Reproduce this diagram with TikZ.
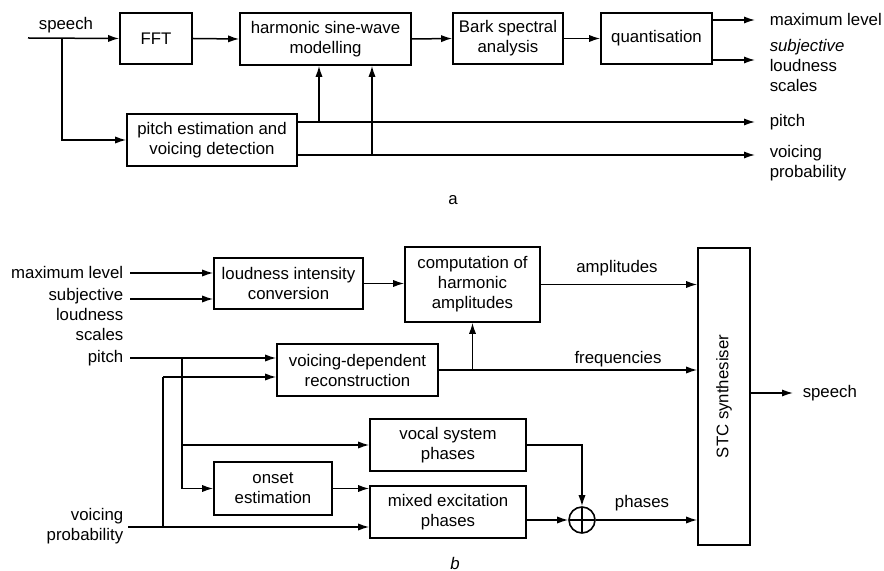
\documentclass[tikz,border=0pt]{standalone}
\usepackage{fontspec}
\setmainfont{Liberation Sans}
\usetikzlibrary{arrows.meta}

\begin{document}
\begin{tikzpicture}[x=0.5pt, y=-0.5pt,
    every node/.style={font=\fontsize{8.4}{10}\selectfont},
    blk/.style={draw, line width=0.8pt, align=center, inner sep=1pt},
    lbl/.style={inner sep=1pt},
    every path/.style={line width=0.75pt},
    >={Latex[length=5.5pt, width=3.6pt]}]
    \useasboundingbox (0,0) rectangle (884,571);

    % Part a: analysis
    \node[blk, minimum width=36pt, minimum height=25.5pt] (fft) at (156,38.5) {FFT};
    \node[blk, minimum width=85.5pt, minimum height=26pt] (hsw) at (325.5,39) {harmonic sine-wave\\modelling};
    \node[blk, minimum width=55pt, minimum height=25.5pt] (bark) at (508,38.5) {Bark spectral\\analysis};
    \node[blk, minimum width=55.5pt, minimum height=25.5pt] (quant) at (656.5,38.5) {quantisation};
    \node[blk, minimum width=85pt, minimum height=26pt] (pe) at (212,140) {pitch estimation and\\voicing detection};

    \coordinate (spin) at (28,38);
    \coordinate (sp) at (62,38);
    \node[lbl] (speechin) at (66,25) {speech};
    \draw[->] (spin) -- (fft.west);
    \draw[->] (sp) |- (pe.west);
    \draw[->] (fft.east) -- (hsw.west);
    \draw[->] (hsw.east) -- (bark.west);
    \draw[->] (bark.east) -- (quant.west);

    % outputs of part a
    \coordinate (mla) at (755,20);
    \coordinate (sla) at (755,60);
    \coordinate (pa) at (755,122);
    \coordinate (va) at (755,155);
    \draw[->] (quant.east |- mla) -- (mla);
    \draw[->] (quant.east |- sla) -- (sla);
    \draw[->] (pe.east |- pa) -- (pa);
    \draw[->] (pe.east |- va) -- (va);
    \coordinate (t1) at (319,122);
    \coordinate (t2) at (372,155);
    \draw[->] (t1) -- (t1 |- hsw.south);
    \draw[->] (t2) -- (t2 |- hsw.south);
    \node[lbl, anchor=west] (mlalbl) at (767,20) {maximum level};
    \node[lbl, anchor=west, align=left] (slalbl) at (767,65.5) {\textit{subjective}\\loudness\\scales};
    \node[lbl, anchor=west] (palbl) at (767,122) {pitch};
    \node[lbl, anchor=west, align=left] (valbl) at (767,163) {voicing\\probability};
    \node[lbl] (capa) at (453,200) {a};

    % Part b: synthesis
    \node[blk, minimum width=74.5pt, minimum height=25.5pt] (loud) at (288.5,283.5) {loudness intensity\\conversion};
    \node[blk, minimum width=67.5pt, minimum height=37.5pt] (comp) at (472.5,284.5) {computation of\\harmonic\\amplitudes};
    \node[blk, minimum width=26pt, minimum height=148.5pt] (stc) at (724,396.5) {};
    \node[rotate=90] (stclbl) at (stc.center) {STC synthesiser};
    \node[blk, minimum width=80.5pt, minimum height=26pt] (vdr) at (357.5,370) {voicing-dependent\\reconstruction};
    \node[blk, minimum width=59pt, minimum height=26.5pt] (onset) at (273,488.5) {onset\\estimation};
    \node[blk, minimum width=78pt, minimum height=26pt] (vocal) at (448,445) {vocal system\\phases};
    \node[blk, minimum width=78pt, minimum height=26pt] (mixed) at (448,512) {mixed excitation\\phases};
    \node[draw, circle, line width=0.8pt, minimum size=13pt, inner sep=0pt,
        path picture={\draw (path picture bounding box.north) -- (path picture bounding box.south)
                            (path picture bounding box.west) -- (path picture bounding box.east);}] (sum) at (582,520) {};

    % inputs of part b
    \node[lbl, anchor=east] (mlb) at (126,272) {maximum level};
    \node[lbl, anchor=east, align=right] (slb) at (126,314) {subjective\\loudness\\scales};
    \node[lbl, anchor=east] (pb) at (126,358) {pitch};
    \node[lbl, anchor=east, align=right] (vb) at (126,526.5) {voicing\\probability};
    \coordinate (ml) at (130,273);
    \coordinate (sl) at (130,299);
    \coordinate (pi) at (130,358);
    \coordinate (vp) at (128,527);
    \coordinate (pt) at (182,358);
    \coordinate (vt) at (163,527);
    \coordinate (v2) at (163,377);
    \draw[->] (ml) -- (loud.west |- ml);
    \draw[->] (sl) -- (loud.west |- sl);
    \draw[->] (pi) -- (vdr.west |- pi);
    \draw[->] (pt) |- (onset.west);
    \draw[->] (pt |- vocal.west) -- (vocal.west);
    \draw[->] (vp) -- (mixed.west |- vp);
    \draw (vt) -- (v2);
    \draw[->] (v2) -- (vdr.west |- v2);

    % internal connections
    \draw[->] (loud.east) -- (loud.east -| comp.west);
    \draw[->] (comp.east) -- (comp.east -| stc.west);
    \draw[->] (vdr.east) -- (vdr.east -| stc.west);
    \draw[->] (vdr.east -| comp.south) -- (comp.south);
    \draw[->] (onset.east) -- (onset.east -| mixed.west);
    \draw[->] (vocal.east) -| (sum.north);
    \draw[->] (mixed.east |- sum.west) -- (sum.west);
    \draw[->] (sum.east) -- (sum.east -| stc.west);
    \coordinate (spout) at (793,393);
    \draw[->] (stc.east |- spout) -- (spout);
    \node[lbl, anchor=west] (spoutlbl) at (800,393) {speech};
    \node[lbl] (amplbl) at (617,268) {amplitudes};
    \node[lbl] (freqlbl) at (618,359) {frequencies};
    \node[lbl] (phlbl) at (642,503) {phases};
    \node[lbl] (capb) at (455,563) {\textit{b}};
\end{tikzpicture}
\end{document}
